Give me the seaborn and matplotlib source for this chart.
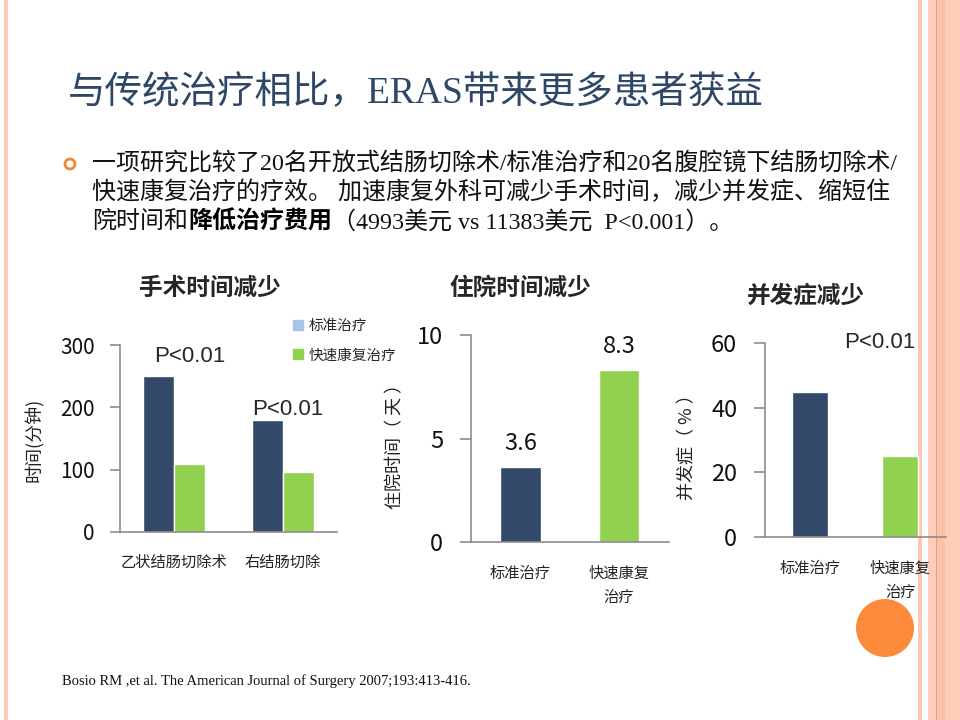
import pandas as pd
import matplotlib
matplotlib.use('Agg')
import matplotlib.pyplot as plt
import matplotlib.patches as mpatches
import seaborn as sns

# data
ops = ['乙状结肠切除术', '右结肠切除']
groups = ['标准治疗', '快速康复治疗']
op_std = [250, 180]
op_fast = [109, 96]

stay_labels = ['标准治疗', '快速康复\n治疗']
stay_days = [3.6, 8.3]

comp_labels = ['标准治疗', '快速康复\n治疗']
comp_pct = [45, 25]

NAVY = '#33496A'
GREEN = '#92D050'
LEGEND_BLUE = '#A9C4EB'
GRAY = '#8C8C8C'

sns.set_style('white')
CJK = ['Noto Sans CJK SC', 'DejaVu Sans']
SERIF = ['Liberation Serif', 'Noto Sans CJK SC']
plt.rcParams['font.family'] = CJK
plt.rcParams['axes.unicode_minus'] = False

fig = plt.figure(figsize=(9.6, 7.2), dpi=100)

def fx(px):
    return px / 960

def fy(py):
    return 1 - py / 720

# slide border stripes
for x0, x1, c in [(4, 8, '#FCCAB6'), (918, 922, '#FCC6B0'), (928, 960, '#FDCDB9'),
                  (937, 945, '#FBC2AB'), (935.5, 937, '#EE9E7A')]:
    fig.patches.append(mpatches.Rectangle((fx(x0), 0), fx(x1 - x0), 1, transform=fig.transFigure,
                                          color=c, zorder=-5, lw=0))

# title
fig.text(fx(68), fy(93), '与传统治疗相比，ERAS带来更多患者获益', fontsize=27, color='#2E4766',
         family=SERIF, va='center', ha='left')

# bullet
fig.patches.append(mpatches.Circle((0.70, 7.2 - 1.64), 0.05, transform=fig.dpi_scale_trans,
                                   fill=False, ec='#F0883A', lw=2))
body_kw = dict(fontsize=17.3, color='#111111', family=SERIF, va='center', ha='left')
fig.text(fx(92), fy(163), '一项研究比较了20名开放式结肠切除术/标准治疗和20名腹腔镜下结肠切除术/', **body_kw)
fig.text(fx(92), fy(193), '快速康复治疗的疗效。 加速康复外科可减少手术时间，减少并发症、缩短住', **body_kw)
t1 = fig.text(fx(92), fy(222), '院时间和', **body_kw)
t2 = fig.text(0, 0, '降低治疗费用', fontsize=17.3, color='#000000', family=CJK, weight='bold',
              va='center', ha='left')
t3 = fig.text(0, 0, '（4993美元 vs 11383美元  P<0.001）。', **body_kw)

# citation
fig.text(fx(62), fy(681), 'Bosio RM ,et al. The American Journal of Surgery 2007;193:413-416.',
         fontsize=10.5, family=['Liberation Serif'], color='#111111', va='center')

def style_axis(ax, ticksize, ticklen, ypad, xpad):
    ax.patch.set_alpha(0)
    for s in ['top', 'right']:
        ax.spines[s].set_visible(False)
    for s in ['left', 'bottom']:
        ax.spines[s].set_color(GRAY)
        ax.spines[s].set_linewidth(1.2)
    ax.tick_params(axis='y', left=True, length=ticklen, width=1.2, color=GRAY,
                   labelsize=ticksize, labelcolor='#111111', pad=ypad)
    ax.tick_params(axis='x', bottom=False, labelsize=11, labelcolor='#222222', pad=xpad)
    ax.set_xlabel('')
    for lab in ax.get_xticklabels():
        lab.set_linespacing(1.55)

# chart 1: operation time
ax1 = fig.add_axes([fx(119.5), fy(532), fx(217.5), (532 - 345) / 720])
df1 = pd.DataFrame({'术式': ops * 2, '组': [groups[0]] * 2 + [groups[1]] * 2,
                    '时间': op_std + op_fast})
sns.barplot(data=df1, x='术式', y='时间', hue='组', palette=[NAVY, GREEN], width=0.57,
            saturation=1, legend=False, ax=ax1)
ax1.set_ylim(0, 300)
ax1.set_yticks([0, 100, 200, 300])
ax1.set_xlim(-0.5, 1.5)
style_axis(ax1, 15, 7, 11, 12)
ax1.set_ylabel('时间(分钟)', fontsize=13, color='#222222')
ax1.yaxis.set_label_coords(-0.347, 0.49)
ax1.text(0.147, 281, 'P<0.01', fontsize=16, family=['Liberation Sans'], ha='center', va='center')
ax1.text(1.046, 196, 'P<0.01', fontsize=16, family=['Liberation Sans'], ha='center', va='center')
handles = [mpatches.Patch(color=LEGEND_BLUE), mpatches.Patch(color=GREEN)]
ax1.legend(handles, groups, loc='upper left', bbox_to_anchor=(fx(293), fy(319)),
           bbox_transform=fig.transFigure, frameon=False, fontsize=10.5, handlelength=0.7,
           handleheight=0.7, handletextpad=0.35, labelspacing=1.05, borderaxespad=0, borderpad=0)
fig.text(fx(210), fy(288), '手术时间减少', fontsize=17, weight='bold', ha='center', va='center')

# chart 2: hospital stay
ax2 = fig.add_axes([fx(471), fy(542), fx(197.5), (542 - 335) / 720])
sns.barplot(x=stay_labels, y=stay_days, hue=stay_labels, palette=[NAVY, GREEN], width=0.41,
            saturation=1, legend=False, ax=ax2)
ax2.set_ylim(0, 10)
ax2.set_yticks([0, 5, 10])
ax2.set_xlim(-0.5, 1.5)
style_axis(ax2, 17, 8, 12, 13)
for cont in ax2.containers:
    ax2.bar_label(cont, fmt='%.1f', padding=9, fontsize=17, color='#111111')
ax2.set_ylabel('住院时间（ 天 ）', fontsize=13, color='#222222')
ax2.yaxis.set_label_coords(-0.339, 0.483)
fig.text(fx(520), fy(288), '住院时间减少', fontsize=17, weight='bold', ha='center', va='center')

# chart 3: complications
ax3 = fig.add_axes([fx(765), fy(537), fx(180.5), (537 - 343) / 720])
sns.barplot(x=comp_labels, y=comp_pct, hue=comp_labels, palette=[NAVY, GREEN], width=0.40,
            saturation=1, legend=False, ax=ax3)
ax3.set_ylim(0, 60)
ax3.set_yticks([0, 20, 40, 60])
ax3.set_xlim(-0.5, 1.5)
style_axis(ax3, 17, 8, 12, 13)
ax3.set_ylabel('并发症（ % ）', fontsize=13, color='#222222')
ax3.yaxis.set_label_coords(-0.383, 0.485)
ax3.text(0.77, 60.3, 'P<0.01', fontsize=16, family=['Liberation Sans'], ha='center', va='center')
fig.text(fx(806), fy(296), '并发症减少', fontsize=17, weight='bold', ha='center', va='center')

# orange dot
fig.patches.append(mpatches.Circle((8.85, 7.2 - 6.28), 0.29, transform=fig.dpi_scale_trans,
                                   color='#FB8A3A', zorder=10, lw=0))

# chain the mixed-weight line
fig.canvas.draw()
r = fig.canvas.get_renderer()
bb = t1.get_window_extent(r)
t2.set_position((bb.x1 / fig.bbox.width, fy(222)))
bb = t2.get_window_extent(r)
t3.set_position((bb.x1 / fig.bbox.width, fy(222)))

fig.savefig('out.png', dpi=100)
